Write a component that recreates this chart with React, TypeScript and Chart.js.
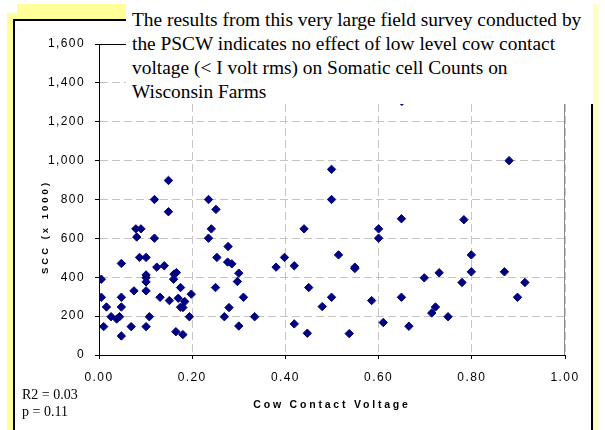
import React, { useEffect, useRef } from "react";
import { Chart, registerables } from "chart.js";

Chart.register(...registerables);

// Cow contact voltage (volts rms) of each farm
const voltage = [
  0.005, 0.005, 0.01, 0.016, 0.026, 0.038, 0.044, 0.048, 0.048, 0.048,
  0.048, 0.069, 0.075, 0.079, 0.081, 0.087, 0.09, 0.101, 0.101, 0.101,
  0.101, 0.101, 0.101, 0.108, 0.119, 0.119, 0.124, 0.131, 0.14, 0.149,
  0.149, 0.151, 0.16, 0.161, 0.166, 0.165, 0.17, 0.175, 0.175, 0.18,
  0.18, 0.184, 0.194, 0.198, 0.235, 0.235, 0.241, 0.251, 0.253, 0.25,
  0.269, 0.277, 0.276, 0.279, 0.285, 0.3, 0.297, 0.3, 0.31, 0.334,
  0.38, 0.398, 0.419, 0.419, 0.44, 0.447, 0.45, 0.479, 0.499, 0.499,
  0.499, 0.514, 0.537, 0.549, 0.549, 0.585, 0.6, 0.6, 0.61, 0.649,
  0.649, 0.665, 0.698, 0.714, 0.722, 0.73, 0.749, 0.779, 0.783, 0.799,
  0.799, 0.87, 0.88, 0.898, 0.914, 0.65,
];

// Somatic cell count (x 1000) of each farm
const scc = [
  390, 297, 146, 247, 197, 185, 197, 471, 297, 247,
  98, 146, 330, 649, 607, 502, 649, 502, 412, 398,
  376, 330, 146, 197, 800, 601, 452, 297, 459, 898,
  737, 280, 390, 416, 424, 120, 292, 347, 246, 244,
  105, 275, 197, 313, 800, 601, 649, 749, 502, 347,
  197, 558, 478, 244, 469, 421, 378, 149, 297, 197,
  452, 502, 459, 160, 649, 112, 347, 249, 955, 800,
  297, 515, 110, 452, 445, 280, 649, 601, 167, 701,
  297, 148, 397, 216, 247, 423, 197, 373, 696, 515,
  428, 428, 1000, 297, 373, 1305,
];

const yTitle = "SCC (x 1000)";
const xTitle = "Cow Contact Voltage";
const noteLines = [
  "The results from this very large field survey conducted by",
  "the PSCW indicates no effect of low level cow contact",
  "voltage (< I volt rms) on Somatic cell Counts on",
  "Wisconsin Farms",
];
const statLines = ["R2 = 0.03", "p = 0.11"];

const SANS = '"Liberation Sans Narrow", "Liberation Sans", Arial, sans-serif';
const SERIF = '"Liberation Serif", "Times New Roman", "DejaVu Serif", serif';
const TICK_SPACING = "1.4px";

const framePlugin = {
  id: "frameAndTitles",
  beforeLayout(chart: any) {
    chart.ctx.letterSpacing = TICK_SPACING;
  },
  beforeDraw(chart: any) {
    chart.ctx.letterSpacing = TICK_SPACING;
  },
  beforeDatasetsDraw(chart: any) {
    const { ctx, chartArea: ca } = chart;
    ctx.save();
    ctx.lineWidth = 1;
    ctx.strokeStyle = "#000";
    ctx.beginPath();
    ctx.moveTo(ca.left, Math.round(ca.top) + 0.5);
    ctx.lineTo(ca.right, Math.round(ca.top) + 0.5);
    ctx.stroke();
    ctx.strokeStyle = "#8c8c8c";
    ctx.beginPath();
    ctx.moveTo(Math.round(ca.right) - 0.5, ca.top);
    ctx.lineTo(Math.round(ca.right) - 0.5, ca.bottom);
    ctx.stroke();
    ctx.restore();
  },
  afterDraw(chart: any) {
    const { ctx, chartArea: ca } = chart;
    ctx.save();
    ctx.fillStyle = "#000";
    ctx.textAlign = "center";
    ctx.textBaseline = "middle";
    ctx.font = `bold 10.5px ${SANS}`;
    ctx.letterSpacing = "2.8px";
    ctx.fillText(xTitle, (ca.left + ca.right) / 2, ca.bottom + 50);
    ctx.translate(ca.left - 54, (ca.top + ca.bottom) / 2 + 27.5);
    ctx.rotate(-Math.PI / 2);
    ctx.font = `bold 9.5px ${SANS}`;
    ctx.letterSpacing = "3px";
    ctx.fillText(yTitle, 0, 0);
    ctx.restore();
  },
};

export default function App() {
  const canvasRef = useRef<HTMLCanvasElement | null>(null);

  useEffect(() => {
    const canvas = canvasRef.current;
    if (!canvas) return;
    const points = voltage.map((v, i) => ({ x: v, y: scc[i] }));
    const chart = new Chart(canvas, {
      type: "scatter",
      data: {
        datasets: [
          {
            data: points,
            pointStyle: "rectRot",
            pointRadius: 4.2,
            pointHoverRadius: 4.2,
            backgroundColor: "#000080",
            borderColor: "#000080",
            borderWidth: 1,
          },
        ],
      },
      options: {
        animation: false,
        responsive: false,
        devicePixelRatio: 1,
        layout: { padding: { left: 0, right: 40, top: 44, bottom: 0 } },
        plugins: { legend: { display: false }, tooltip: { enabled: false } },
        scales: {
          x: {
            type: "linear",
            min: 0,
            max: 1,
            ticks: {
              stepSize: 0.2,
              callback: (v: any) => Number(v).toFixed(2),
              font: { family: SANS, size: 12 },
              color: "#000",
              padding: 11,
              maxRotation: 0,
            },
            grid: { color: "#c4c4c4", lineWidth: 1, tickColor: "#000", tickLength: 4 },
            border: { color: "#000", width: 1, dash: [8, 4] },
            afterFit: (s: any) => {
              s.height = 75;
            },
          },
          y: {
            type: "linear",
            min: 0,
            max: 1600,
            ticks: {
              stepSize: 200,
              callback: (v: any) => Number(v).toLocaleString("en-US"),
              font: { family: SANS, size: 12 },
              color: "#000",
              padding: 10,
            },
            grid: { color: "#c4c4c4", lineWidth: 1, tickColor: "#000", tickLength: 4 },
            border: { color: "#000", width: 1, dash: [8, 4] },
            afterFit: (s: any) => {
              s.width = 99;
            },
          },
        },
      },
      plugins: [framePlugin],
    });
    return () => chart.destroy();
  }, []);

  return (
    <div
      style={{
        position: "fixed",
        left: 0,
        top: 0,
        width: 605,
        height: 430,
        background: "#fff",
        overflow: "hidden",
      }}
    >
      <div style={{ position: "absolute", left: 17, top: 4, width: 583, height: 20, background: "#FFFF99" }} />
      <div style={{ position: "absolute", left: 7, top: 13, width: 12, height: 417, background: "#FFFF99" }} />
      <div
        style={{
          position: "absolute",
          left: 590,
          top: 4,
          width: 10,
          height: 426,
          background: "linear-gradient(to right, #FFFF99, #FFFFE6)",
        }}
      />
      <div
        style={{
          position: "absolute",
          left: 13,
          top: 19,
          width: 580,
          height: 420,
          border: "2px solid #000",
          borderBottom: "none",
          boxSizing: "border-box",
          background: "#fff",
        }}
      />
      <canvas
        ref={canvasRef}
        width={605}
        height={430}
        style={{ position: "absolute", left: 0, top: 0, width: 605, height: 430 }}
      />
      <div
        style={{
          position: "absolute",
          left: 126,
          top: 0,
          width: 467,
          height: 104,
          background: "#fff",
          boxSizing: "border-box",
          paddingLeft: 6,
          paddingTop: 8,
          fontFamily: SERIF,
          fontSize: 19.4,
          lineHeight: "24px",
          color: "#000",
          whiteSpace: "nowrap",
        }}
      >
        {noteLines.map((l, i) => (
          <div key={i}>{l}</div>
        ))}
      </div>
      <div
        style={{
          position: "absolute",
          left: 22,
          top: 385.5,
          fontFamily: SERIF,
          fontSize: 14,
          lineHeight: "17px",
          color: "#000",
          whiteSpace: "nowrap",
        }}
      >
        {statLines.map((l, i) => (
          <div key={i}>{l}</div>
        ))}
      </div>
    </div>
  );
}
